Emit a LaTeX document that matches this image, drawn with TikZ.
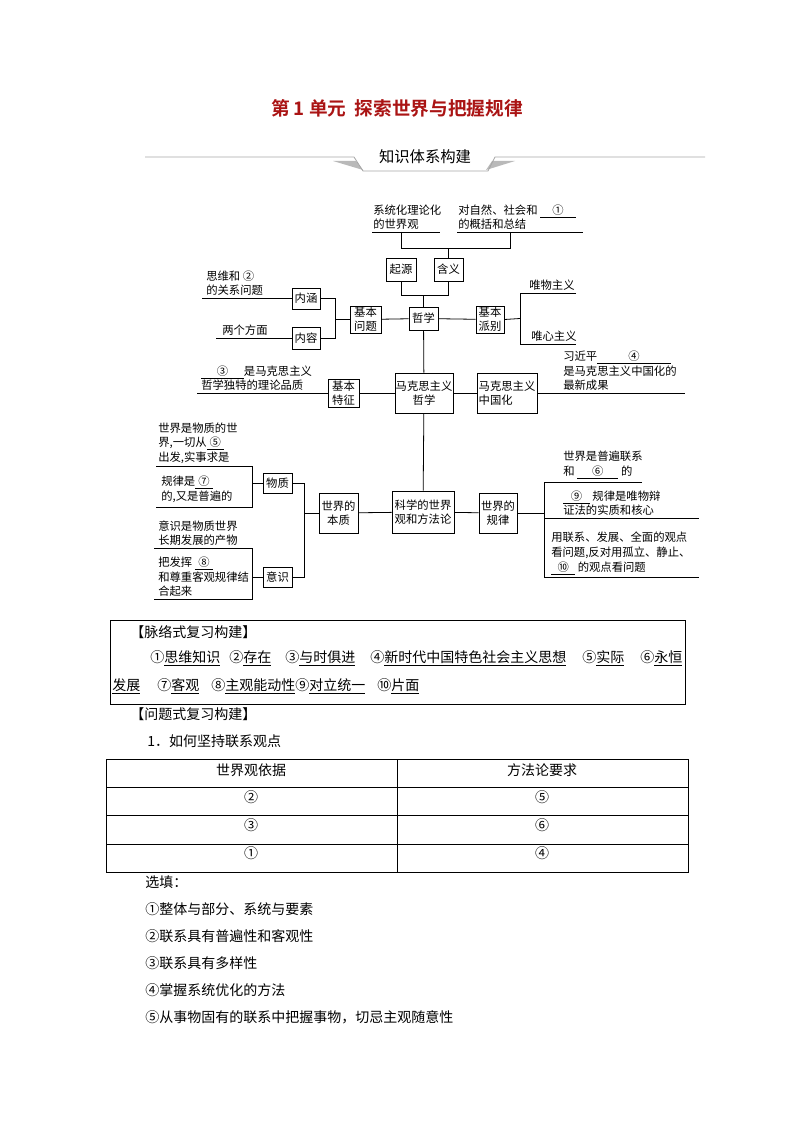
\documentclass[tikz,border=0pt]{standalone}
\usepackage{fontspec}
\setmainfont{Noto Sans CJK SC}
\newfontfamily\cjkb{Noto Sans CJK SC Bold}
\definecolor{titred}{RGB}{170,20,20}
\tikzset{
 bx/.style={draw,line width=0.6pt,inner sep=0pt,align=center,font=\fontsize{8.5pt}{10.5pt}\selectfont},
 tx/.style={inner sep=0pt,align=left,font=\fontsize{8.5pt}{11pt}\selectfont},
 bt/.style={inner sep=0pt,anchor=base west,font=\fontsize{10.5pt}{13pt}\selectfont},
 ln/.style={line width=0.6pt},
}
\newcommand{\blk}[2]{\underline{\makebox[#1]{#2}}}
\begin{document}
\begin{tikzpicture}[x=0.75pt,y=-0.75pt]
\useasboundingbox (0,0) rectangle (794,1123);
% title
\node[text=titred,font=\cjkb\fontsize{14pt}{16pt}\selectfont] (title) at (397,108) {第 1 单元\ \ 探索世界与把握规律};
% banner
\fill[gray!55] (333,161) -- (356,161) -- (363,170) -- cycle;
\fill[gray!55] (515,161) -- (492,161) -- (486,170) -- cycle;
\draw[gray!70,line width=0.6pt] (145,157) -- (354,157) -- (363,171) -- (488,171) -- (495,157) -- (705,157);
\node[font=\fontsize{11.5pt}{13pt}\selectfont] (banner) at (425,157) {知识体系构建};

% boxes
\node[bx,minimum width=22.5pt,minimum height=17.25pt] (qy) at (401,269.5) {起源};
\node[bx,minimum width=21.75pt,minimum height=17.25pt] (hy) at (448.5,269.5) {含义};
\node[bx,minimum width=21.75pt,minimum height=17.25pt] (zx) at (423.5,318.5) {哲学};
\node[bx,minimum width=23.25pt,minimum height=20.25pt] (jbwt) at (365.5,319.5) {基本\\问题};
\node[bx,minimum width=21pt,minimum height=15.75pt] (nh) at (306,298.5) {内涵};
\node[bx,minimum width=21pt,minimum height=16.5pt] (nr) at (306,338) {内容};
\node[bx,minimum width=21pt,minimum height=20.25pt] (jbpb) at (490,319.5) {基本\\派别};
\node[bx,minimum width=23.25pt,minimum height=21pt] (jbtz) at (343.5,393) {基本\\特征};
\node[bx,minimum width=43.5pt,minimum height=30pt] (mz) at (424,393) {马克思主义\\哲学};
\node[bx,minimum width=45pt,minimum height=30pt,align=left] (zgh) at (507,393) {马克思主义\\中国化\phantom{主义}};
\node[bx,minimum width=46.5pt,minimum height=31.5pt] (kx) at (423,512) {科学的世界\\观和方法论};
\node[bx,minimum width=29.25pt,minimum height=30pt] (bz) at (338.5,513) {世界的\\本质};
\node[bx,minimum width=28.5pt,minimum height=30pt] (gl) at (498,513) {世界的\\规律};
\node[bx,minimum width=21.75pt,minimum height=15pt] (wz) at (277.5,483) {物质};
\node[bx,minimum width=21.75pt,minimum height=15pt] (ys) at (277.5,577) {意识};

% top texts
\node[tx,anchor=south west] (t1) at (373,230) {系统化理论化\\的世界观};
\node[tx,anchor=south west] (t2) at (458,230) {对自然、社会和\ \blk{27pt}{①}\\的概括和总结};
\draw[ln] (372,232) -- (440,232);
\draw[ln] (457,232) -- (583,232);
\coordinate (a1) at (401,232); \coordinate (a2) at (510,232);
\draw[ln] (a1) -- (401,248) -- (510,248) -- (a2);
\draw[ln] (448.5,248) -- (hy.north);
\draw[ln] (qy.south) -- (401,295) -- (448.5,295) -- (hy.south);
\draw[ln] (423.5,295) -- (zx.north);
% basic question
\draw[ln] (zx) -- (jbwt);
\draw[ln] (nh.east) -- (335,298.5) -- (335,338) -- (nr.east);
\draw[ln] (335,319.5) -- (jbwt.west);
\coordinate (nhl) at (202,298.5); \coordinate (nrl) at (216,338);
\draw[ln] (nhl) -- (nh.west);
\draw[ln] (nrl) -- (nr.west);
\node[tx,anchor=south west] (t3) at (206,296) {思维和 ②\\的关系问题};
\node[tx,anchor=south west] (t4) at (222,336) {两个方面};
% schools
\draw[ln] (zx) -- (jbpb);
\draw[ln] (jbpb.east) -- (520,318.5);
\draw[ln] (576,293) -- (520,293) -- (520,344) -- (576,344);
\node[tx,anchor=south west] (t5) at (529,291) {唯物主义};
\node[tx,anchor=south west] (t6) at (531,342) {唯心主义};
% marxism
\draw[ln] (zx) -- (mz);
\draw[ln] (jbtz) -- (mz);
\draw[ln] (mz) -- (zgh);
\coordinate (tzl) at (197,393);
\draw[ln] (tzl) -- (jbtz.west);
\node[tx,anchor=south west] (t7) at (201,391) {\blk{32pt}{③}是马克思主义\\哲学独特的理论品质};
\coordinate (zgr) at (685,393);
\draw[ln] (zgh.east) -- (zgr);
\node[tx,anchor=south west] (t8) at (563,391) {习近平\blk{55pt}{④}\\是马克思主义中国化的\\最新成果};
% science
\draw[ln] (mz) -- (kx);
\draw[ln] (bz) -- (kx);
\draw[ln] (kx) -- (gl);
\draw[ln] (wz.east) -- (304,483) -- (304,577) -- (ys.east);
\draw[ln] (304,513) -- (bz.west);
% matter left
\draw[ln] (156,466) -- (252,466) -- (252,507) -- (156,507);
\draw[ln] (252,483) -- (wz.west);
\node[tx,anchor=south west] (t9) at (158,464) {世界是物质的世\\界,一切从\blk{13pt}{⑤}\\出发,实事求是};
\node[tx,anchor=south west] (t10) at (161,503) {规律是\blk{13pt}{⑦}\\的,又是普遍的};
% consciousness left
\draw[ln] (154,548) -- (252,548) -- (252,599) -- (154,599);
\draw[ln] (252,577) -- (ys.west);
\node[tx,anchor=south west] (t11) at (158,546) {意识是物质世界\\长期发展的产物};
\node[tx,anchor=south west] (t12) at (158,597) {把发挥\ \blk{14pt}{⑧}\\和尊重客观规律结\\合起来};
% law right
\draw[ln] (gl.east) -- (544,513);
\draw[ln] (642,482) -- (544,482) -- (544,577) -- (699,577);
\draw[ln] (544,518) -- (699,518);
\node[tx,anchor=south west] (t13) at (563,479) {世界是普遍联系\\和\ \blk{31pt}{⑥}\ 的};
\node[tx,anchor=south west] (t14) at (563,516) {\blk{20pt}{⑨}\ 规律是唯物辩\\证法的实质和核心};
\node[tx,anchor=south west] (t15) at (551,575) {用联系、发展、全面的观点\\看问题,反对用孤立、静止、\\\blk{18pt}{⑩}\ 的观点看问题};

% review box
\node[draw,line width=0.6pt,minimum width=431.25pt,minimum height=63pt,inner sep=0pt] (rv) at (397.5,662) {};
\node[bt] (r0) at (130,637) {【脉络式复习构建】};
\node[bt] (r1) at (150,662) {①\underline{思维知识}};
\node[bt] (r2) at (229,662) {②\underline{存在}};
\node[bt] (r3) at (285,662) {③\underline{与时俱进}};
\node[bt] (r4) at (370,662) {④\underline{新时代中国特色社会主义思想}};
\node[bt] (r5) at (582,662) {⑤\underline{实际}};
\node[bt] (r6) at (640,662) {⑥\underline{永恒}};
\node[bt] (r7) at (112,690) {\underline{发展}};
\node[bt] (r8) at (157,690) {⑦\underline{客观}};
\node[bt] (r9) at (211,690) {⑧\underline{主观能动性}⑨\underline{对立统一}};
\node[bt] (r10) at (377,690) {⑩\underline{片面}};
\node[bt] (q0) at (130,719) {【问题式复习构建】};
\node[bt] (q1) at (147,746) {1．如何坚持联系观点};
% table
\draw[line width=0.7pt] (106,759) rectangle (688,872);
\foreach \yy in {787,815,844} \draw[line width=0.6pt] (106,\yy) -- (688,\yy);
\draw[line width=0.6pt] (397,759) -- (397,872);
\node[font=\fontsize{10.5pt}{12pt}\selectfont] (h1) at (251,770) {世界观依据};
\node[font=\fontsize{10.5pt}{12pt}\selectfont] (h2) at (542,770) {方法论要求};
\node[font=\fontsize{10.5pt}{12pt}\selectfont] (c1) at (251,797) {②};
\node[font=\fontsize{10.5pt}{12pt}\selectfont] (c2) at (542,797) {⑤};
\node[font=\fontsize{10.5pt}{12pt}\selectfont] (c3) at (251,825) {③};
\node[font=\fontsize{10.5pt}{12pt}\selectfont] (c4) at (542,825) {⑥};
\node[font=\fontsize{10.5pt}{12pt}\selectfont] (c5) at (251,853) {①};
\node[font=\fontsize{10.5pt}{12pt}\selectfont] (c6) at (542,853) {④};
\node[bt] (s0) at (145,887) {选填：};
\node[bt] (s1) at (145,914) {①整体与部分、系统与要素};
\node[bt] (s2) at (145,941) {②联系具有普遍性和客观性};
\node[bt] (s3) at (145,968) {③联系具有多样性};
\node[bt] (s4) at (145,995) {④掌握系统优化的方法};
\node[bt] (s5) at (145,1022) {⑤从事物固有的联系中把握事物，切忌主观随意性};
\end{tikzpicture}
\end{document}
